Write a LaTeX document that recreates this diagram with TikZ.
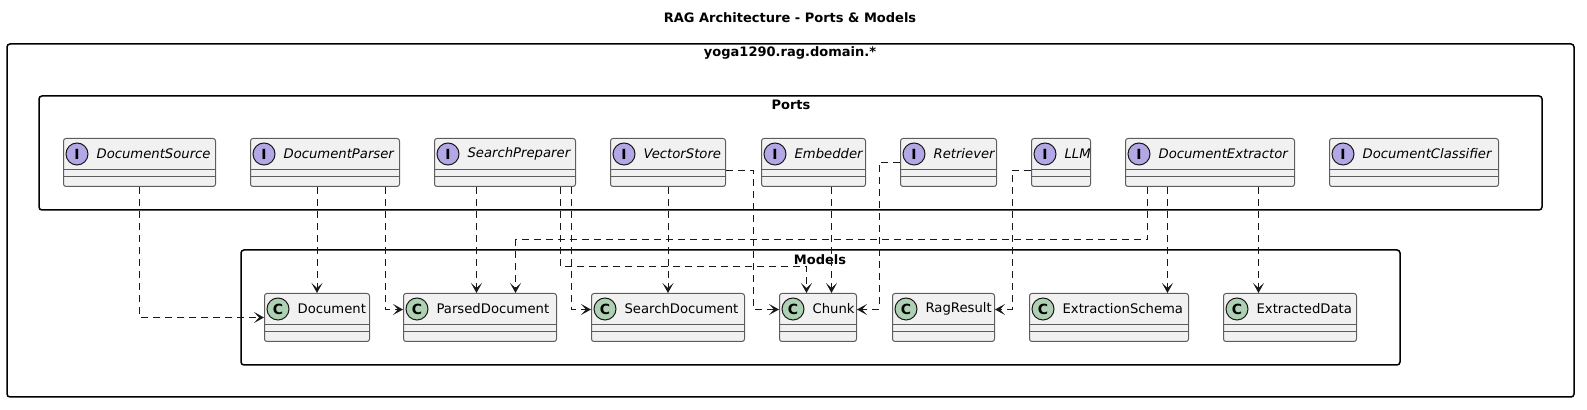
\documentclass[tikz,border=0pt]{standalone}
\usepackage{fontspec}
\setmainfont{DejaVu Sans}
\usetikzlibrary{arrows.meta}

\definecolor{ifacefill}{HTML}{B4A7E5}
\definecolor{classfill}{HTML}{ADD1B2}
\definecolor{boxfill}{HTML}{F1F1F1}
\definecolor{boxline}{HTML}{181818}

% name, x left, x right, y top, label, icon colour, letter, font
\newcommand\umlbox[8]{%
  \node[umlbox, anchor=north west, minimum width={(#3-#2)*0.5pt}] (#1) at (#2,#4) {};
  \draw[boxline!70, line width=0.5pt] ([yshift=-16pt]#1.north west) -- ([yshift=-16pt]#1.north east);
  \draw[boxline!70, line width=0.5pt] ([yshift=-19.5pt]#1.north west) -- ([yshift=-19.5pt]#1.north east);
  \node[icon, fill=#6] at ([xshift=7pt,yshift=-8pt]#1.north west) {\fontsize{7pt}{8pt}\selectfont\bfseries #7};
  \node[anchor=west, inner sep=0pt] at ([xshift=14.5pt,yshift=-8pt]#1.north west) {\fontsize{6.6pt}{8pt}\selectfont#8 #5};
}

\begin{document}
\begin{tikzpicture}[x=0.5pt, y=-0.5pt,
    umlbox/.style={draw=boxline!70, fill=boxfill, line width=0.5pt, rounded corners=1.25pt,
      minimum height=24pt, inner sep=0pt},
    icon/.style={circle, draw=boxline, line width=0.5pt, minimum size=11pt, inner sep=0pt},
    pkg/.style={draw=black, line width=0.75pt, rounded corners=1.5pt},
    pkglabel/.style={font=\fontsize{6.5pt}{8pt}\selectfont\bfseries},
    dep/.style={draw=boxline, line width=0.5pt, dash pattern=on 3.5pt off 2.5pt,
      -{Stealth[length=5pt,width=5.5pt,inset=2.5pt]}}]
  \useasboundingbox (0,0) rectangle (1587,410);

  \node[font=\fontsize{6.5pt}{8pt}\selectfont\bfseries] (title) at (790,18) {RAG Architecture - Ports \& Models};

  % packages
  \draw[pkg] (7,44) rectangle (1574,397);
  \node[pkglabel] (domain) at (790,53) {yoga1290.rag.domain.*};
  \draw[pkg] (39,96) rectangle (1542,210);
  \node[pkglabel] (ports) at (791,105) {Ports};
  \draw[pkg] (241,250) rectangle (1400,365);
  \node[pkglabel] (models) at (820,260) {Models};

  % ports
  \umlbox{dsrc}{63}{215}{138}{DocumentSource}{ifacefill}{I}{\itshape}
  \umlbox{dpar}{250}{399}{138}{DocumentParser}{ifacefill}{I}{\itshape}
  \umlbox{sprep}{434}{575}{138}{SearchPreparer}{ifacefill}{I}{\itshape}
  \umlbox{vstore}{610}{725}{138}{VectorStore}{ifacefill}{I}{\itshape}
  \umlbox{emb}{761}{865}{138}{Embedder}{ifacefill}{I}{\itshape}
  \umlbox{retr}{900}{996}{138}{Retriever}{ifacefill}{I}{\itshape}
  \umlbox{llm}{1031}{1090}{138}{LLM}{ifacefill}{I}{\itshape}
  \umlbox{dext}{1125}{1294}{138}{DocumentExtractor}{ifacefill}{I}{\itshape}
  \umlbox{dcls}{1329}{1498}{138}{DocumentClassifier}{ifacefill}{I}{\itshape}

  % models
  \umlbox{doc}{264}{369}{293}{Document}{classfill}{C}{}
  \umlbox{pdoc}{403}{556}{293}{ParsedDocument}{classfill}{C}{}
  \umlbox{sdoc}{591}{744}{293}{SearchDocument}{classfill}{C}{}
  \umlbox{chunk}{779}{856}{293}{Chunk}{classfill}{C}{}
  \umlbox{rag}{892}{994}{293}{RagResult}{classfill}{C}{}
  \umlbox{esch}{1029}{1188}{293}{ExtractionSchema}{classfill}{C}{}
  \umlbox{edata}{1223}{1356}{293}{ExtractedData}{classfill}{C}{}

  % dependencies
  \draw[dep] (dsrc.south) |- (doc.west);
  \draw[dep] (doc.north |- dpar.south) -- (doc.north);
  \draw[dep] ([xshift=30.25pt]dpar.south) |- ([yshift=4pt]pdoc.west);
  \draw[dep] ([xshift=-1.75pt]pdoc.north |- sprep.south) -- ([xshift=-1.75pt]pdoc.north);
  \draw[dep] ([xshift=27.75pt]sprep.south) |- ([xshift=-5.75pt,yshift=13pt]chunk.north) -- ([xshift=-5.75pt]chunk.north);
  \draw[dep] ([xshift=33.25pt]sprep.south) |- ([yshift=4pt]sdoc.west);
  \draw[dep] (vstore) -- (sdoc);
  \draw[dep] ([yshift=-4pt]vstore.east) -- ++(13.5pt,0) |- ([yshift=4pt]chunk.west);
  \draw[dep] ([xshift=9pt]emb.south) -- ([xshift=9pt]emb.south |- chunk.north);
  \draw[dep] (retr.west) -- ++(-10.5pt,0) |- ([yshift=4pt]chunk.east);
  \draw[dep] ([yshift=-4pt]llm.west) -- ++(-9.5pt,0) |- ([yshift=4pt]rag.east);
  \draw[dep] ([xshift=-31.25pt]dext.south) |- ([xshift=17.75pt,yshift=26.5pt]pdoc.north) -- ([xshift=17.75pt]pdoc.north);
  \draw[dep] ([xshift=-21.25pt]dext.south) -- ([xshift=-21.25pt]dext.south |- esch.north);
  \draw[dep] ([xshift=24.25pt]dext.south) -- ([xshift=24.25pt]dext.south |- edata.north);
\end{tikzpicture}
\end{document}
